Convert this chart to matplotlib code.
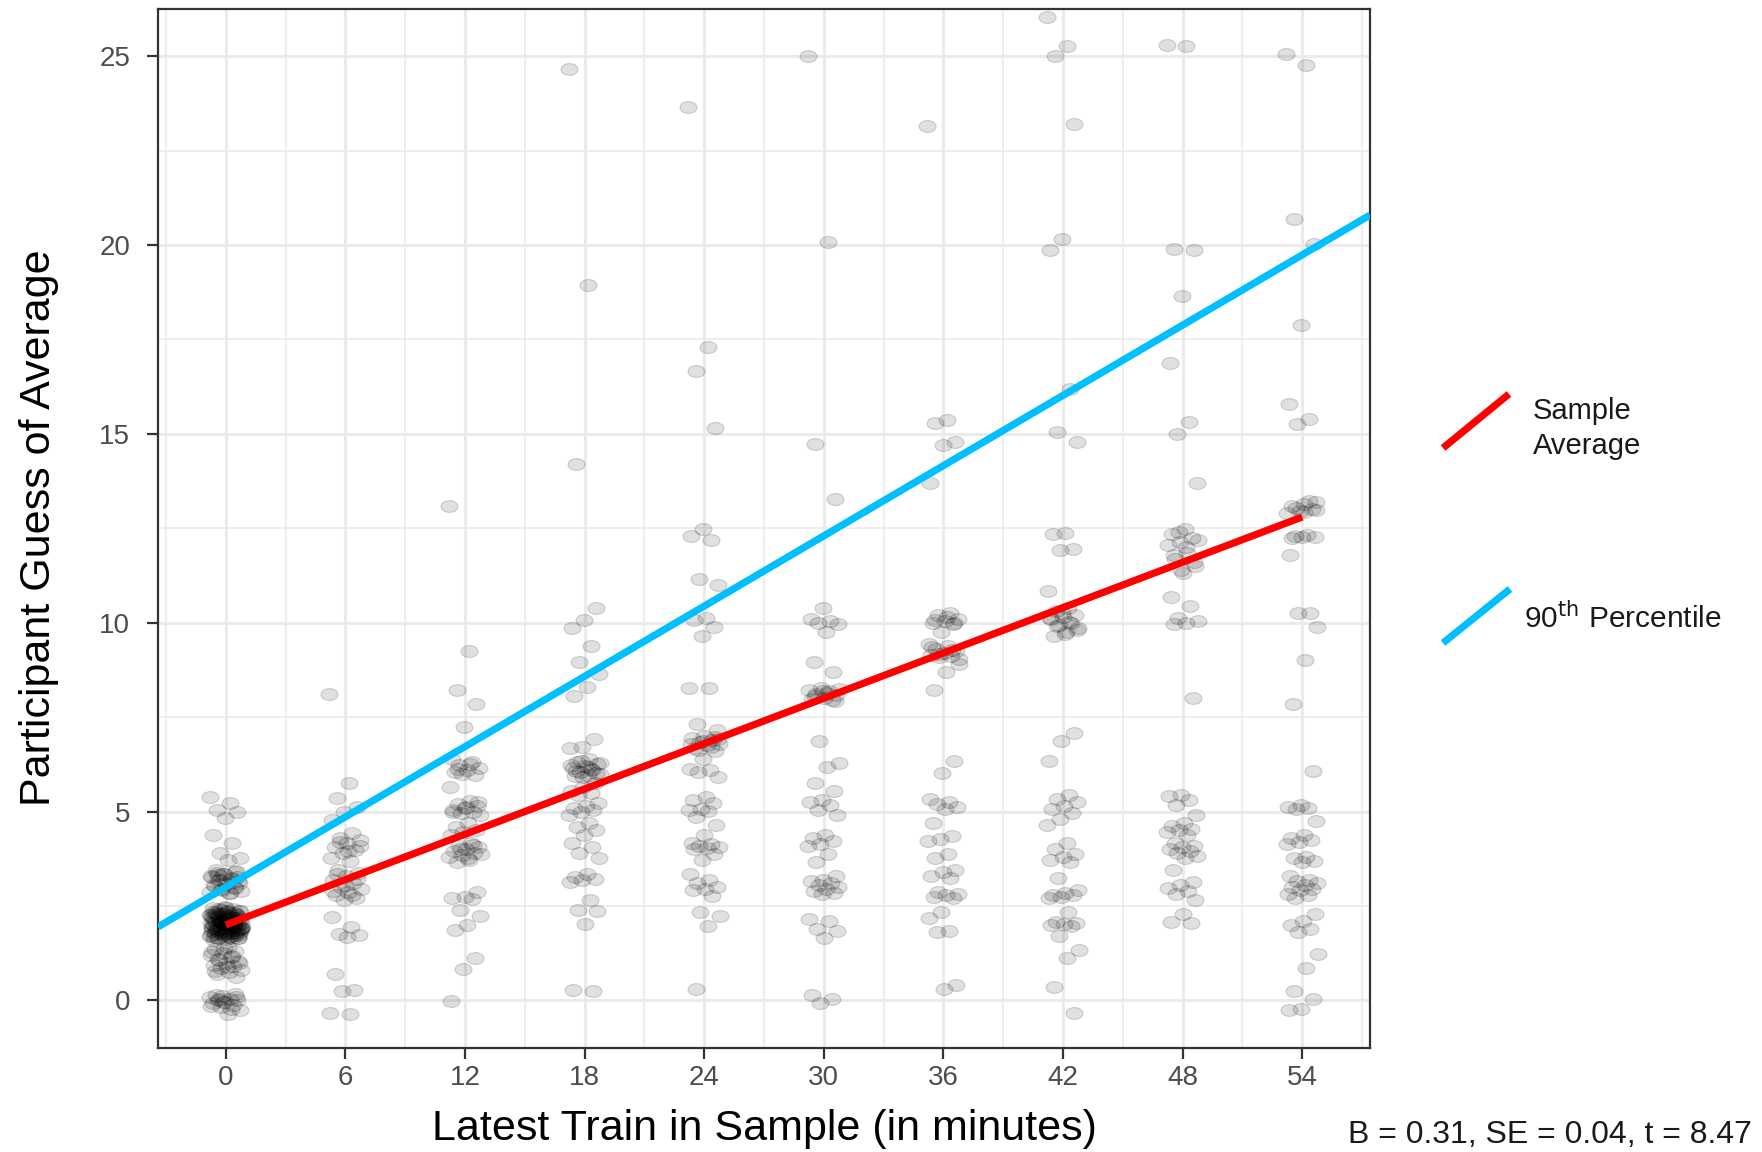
import numpy as np
import matplotlib
matplotlib.use("Agg")
import matplotlib.pyplot as plt
from matplotlib.path import Path
from matplotlib.lines import Line2D

plt.rcParams['font.family'] = ['Liberation Sans', 'DejaVu Sans']

# ---------------- data ----------------
x_groups = [0, 6, 12, 18, 24, 30, 36, 42, 48, 54]
x_ticks = [0, 6, 12, 18, 24, 30, 36, 42, 48, 54]
y_ticks = [0, 5, 10, 15, 20, 25]

y_0 = [5.39, 5.22, 5.04, 5.0, 4.82, 4.38, 4.16, 3.89, 3.76, 3.72,
       3.45, 3.4, 3.35, 3.3, 3.25, 3.2, 3.15, 3.1, 3.05, 3.0, 2.95, 2.9, 2.85, 3.38,
       3.42, 3.36, 3.28, 3.22, 3.18, 3.12, 3.08, 3.02, 2.98, 2.92, 2.88, 2.84, 3.32, 3.26,
       2.48, 2.45, 2.42, 2.4, 2.37, 2.35, 2.32, 2.3, 2.28, 2.25, 2.22, 2.2, 2.18, 2.15,
       2.12, 2.1, 2.08, 2.05, 2.02, 2.0, 1.98, 1.95, 1.92, 1.9, 1.88, 1.85, 1.82, 1.8,
       1.78, 1.75, 1.72, 1.7, 1.68, 1.65, 1.62, 1.6, 2.0, 2.1, 1.9, 2.2, 2.3, 1.8, 2.0,
       1.95, 2.05,
       2.41, 2.38, 2.36, 2.33, 2.31, 2.29, 2.27, 2.26, 2.24, 2.23, 2.21, 2.19, 2.17,
       2.16, 2.14, 2.13, 2.11, 2.09, 2.07, 2.06, 2.04, 2.03, 2.01, 1.99, 1.97, 1.96,
       1.94, 1.93, 1.91, 1.89, 1.87, 1.86, 1.84, 1.83, 1.81, 1.79, 1.77, 1.76, 1.74,
       1.72, 1.7, 1.68, 1.66, 1.64, 2.44, 2.02, 1.98, 2.08, 1.92, 2.12, 1.88, 2.18,
       1.82, 2.22, 1.78, 2.28, 1.73, 2.34, 1.69, 2.0, 2.05, 1.95, 2.15, 1.85, 2.25,
       1.75, 2.35, 1.65, 2.1, 1.9,
       1.41, 1.35, 1.3, 1.25, 1.2, 1.15, 1.1, 1.05, 1.0, 0.95, 0.9, 0.85, 0.8, 0.75,
       0.71, 0.62, 1.38, 1.28, 1.18, 1.08, 0.98, 0.88, 0.78,
       0.18, 0.12, 0.08, 0.05, 0.02, 0.0, -0.03, -0.08, -0.12, -0.18, -0.25, -0.35,
       0.15, 0.1, -0.05, -0.15, -0.22, 0.04]
y_6 = [8.12, 5.76, 5.35, 5.13, 5.0, 4.77, 4.42, 4.3, 4.24, 4.16, 4.05, 3.98, 3.9,
       3.76, 3.7, 3.45, 3.38, 3.3, 3.18, 3.1, 3.0, 2.95, 2.88, 2.8, 2.72, 2.65, 2.21,
       1.95, 1.75, 1.72, 1.68, 0.71, 0.28, 0.25, -0.33, -0.37,
       3.35, 3.22, 3.05, 2.9, 2.78, 4.2, 4.1, 3.95]
y_12 = [13.09, 9.24, 8.22, 7.84, 7.25, 6.39, 6.3, 6.22, 6.15, 6.1, 6.05, 5.97, 6.0,
        5.65, 5.28, 5.2, 5.15, 5.1, 5.05, 5.0, 4.95, 4.92, 4.7, 4.6, 4.5, 4.45, 4.39,
        4.18, 4.1, 4.05, 4.0, 3.95, 3.9, 3.85, 3.8, 3.72, 3.66, 2.87, 2.75, 2.71, 2.68,
        2.39, 2.24, 2.0, 1.87, 1.13, 0.82, -0.02,
        6.25, 6.12, 5.25, 5.12, 4.98, 4.12, 4.02, 3.88, 3.78]
y_18 = [24.65, 18.93, 14.21, 10.38, 10.06, 9.87, 9.38, 8.96, 8.64, 8.3, 8.07, 6.91,
        6.72, 6.68, 6.39, 6.32, 6.25, 6.2, 6.15, 6.1, 6.05, 6.0, 5.97, 5.95, 5.76,
        5.65, 5.55, 5.5, 5.44, 5.23, 5.15, 5.1, 5.05, 4.98, 4.92, 4.7, 4.6, 4.5, 4.39,
        4.18, 4.05, 3.9, 3.76, 3.34, 3.28, 3.22, 3.18, 3.13, 2.66, 2.39, 2.36, 2.03,
        0.27, 0.25,
        6.35, 6.28, 6.18, 6.08, 6.02, 5.92, 6.22, 6.12]
y_24 = [23.66, 17.3, 16.67, 15.16, 12.48, 12.29, 12.2, 11.17, 11.0, 10.12, 10.08,
        9.9, 9.66, 8.28, 8.26, 7.33, 7.17, 7.0, 6.95, 6.9, 6.85, 6.8, 6.75, 6.68, 6.6,
        6.39, 6.12, 6.1, 6.05, 5.91, 5.39, 5.3, 5.23, 5.07, 5.05, 5.02, 4.86, 4.65,
        4.39, 4.18, 4.15, 4.1, 4.05, 4.03, 4.02, 3.87, 3.71, 3.34, 3.18, 3.1, 3.0,
        2.95, 2.92, 2.76, 2.34, 2.24, 1.97, 0.29,
        6.98, 6.88, 6.78, 6.7, 6.62, 6.92]
y_30 = [25.0, 20.09, 14.74, 13.27, 10.38, 10.1, 10.05, 10.0, 9.96, 9.75, 8.96, 8.7,
        8.28, 8.22, 8.18, 8.12, 8.08, 8.02, 7.98, 7.96, 6.86, 6.28, 6.18, 5.76, 5.55,
        5.3, 5.26, 5.18, 5.05, 4.92, 4.39, 4.3, 4.22, 4.15, 4.08, 3.87, 3.66, 3.29,
        3.2, 3.15, 3.1, 3.05, 3.0, 2.95, 2.9, 2.85, 2.82, 2.15, 2.11, 1.9, 1.85, 1.66,
        0.14, 0.05, -0.07,
        8.25, 8.15, 8.05, 7.92, 8.2]
y_36 = [23.15, 15.37, 15.3, 14.79, 14.7, 13.69, 10.27, 10.2, 10.1, 10.05, 10.0, 9.96,
        9.75, 9.43, 9.38, 9.3, 9.25, 9.2, 9.15, 9.12, 9.1, 8.91, 8.7, 8.22, 6.33, 6.02,
        5.34, 5.25, 5.2, 5.12, 5.07, 4.71, 4.34, 4.28, 4.23, 3.87, 3.76, 3.45, 3.4,
        3.3, 3.24, 2.87, 2.82, 2.78, 2.75, 2.71, 2.34, 2.18, 1.84, 1.8, 0.4, 0.29,
        9.35, 9.28, 9.18, 9.05, 10.15, 10.08, 9.98]
y_42 = [26.03, 25.26, 25.0, 23.21, 20.15, 19.88, 16.19, 15.05, 14.79, 12.37, 12.35,
        11.95, 11.93, 10.85, 10.38, 10.3, 10.2, 10.15, 10.1, 10.0, 9.95, 9.85, 9.75,
        9.64, 7.07, 6.86, 6.33, 5.44, 5.34, 5.25, 5.15, 5.07, 4.97, 4.8, 4.65, 4.18,
        4.02, 3.87, 3.8, 3.72, 3.66, 3.24, 2.92, 2.85, 2.8, 2.78, 2.75, 2.71, 2.34,
        2.08, 2.05, 2.02, 2.0, 1.97, 1.71, 1.34, 1.13, 0.35, -0.34,
        10.25, 10.12, 10.02, 9.92, 9.8, 9.7]
y_48 = [25.29, 25.27, 19.9, 19.88, 18.66, 16.88, 15.32, 15.0, 13.69, 12.48, 12.35,
        12.25, 12.15, 12.06, 11.85, 11.7, 11.5, 11.32, 10.69, 10.43, 10.12, 10.05,
        10.0, 9.96, 8.01, 5.44, 5.4, 5.3, 5.18, 4.92, 4.7, 4.62, 4.55, 4.5, 4.45, 4.39,
        4.18, 4.1, 4.05, 4.0, 3.95, 3.9, 3.82, 3.76, 3.45, 3.13, 3.05, 2.98, 2.9, 2.82,
        2.66, 2.29, 2.08, 2.06,
        12.4, 12.2, 12.0, 11.8, 11.6, 11.4]
y_54 = [25.05, 24.78, 20.69, 20.03, 17.89, 15.78, 15.4, 15.26, 13.2, 13.15, 13.1,
        13.0, 12.95, 12.9, 12.32, 12.3, 12.28, 12.27, 11.8, 10.27, 10.25, 9.9, 9.01,
        7.86, 6.07, 5.18, 5.12, 5.1, 5.07, 4.76, 4.39, 4.3, 4.25, 4.2, 4.13, 3.81,
        3.76, 3.7, 3.66, 3.29, 3.2, 3.15, 3.1, 3.05, 3.0, 2.95, 2.92, 2.82, 2.78, 2.71,
        2.29, 2.1, 2.0, 1.9, 1.82, 1.24, 0.87, 0.24, 0.03, -0.23, -0.25,
        13.22, 13.05, 12.98, 12.92, 12.25]
y_groups = [y_0, y_6, y_12, y_18, y_24, y_30, y_36, y_42, y_48, y_54]

# regression lines: intercept, slope
avg_intercept, avg_slope = 2.0, 0.2
p90_intercept, p90_slope = 3.0, 0.31

legend_labels = ["Sample\nAverage", r"90$^{\mathrm{th}}$ Percentile"]
stats_text = "B = 0.31, SE = 0.04, t = 8.47"
x_label = "Latest Train in Sample (in minutes)"
y_label = "Participant Guess of Average"

# ---------------- figure ----------------
W, H = 1762, 1152
fig = plt.figure(figsize=(W / 100, H / 100), dpi=100)
ax = fig.add_axes([158 / W, 1 - 1048 / H, (1370 - 158) / W, (1048 - 9) / H])

xlim = (-3.4, 57.4)
ylim = (-1.26, 26.25)

# grid
grid_col = '#ebebeb'
ax.set_xticks(x_ticks)
ax.set_yticks(y_ticks)
ax.set_xticks(np.arange(-3, 58, 6), minor=True)
ax.set_yticks(np.arange(-2.5, 27, 5), minor=True)
ax.grid(True, which='major', color=grid_col, lw=2.2, zorder=0)
ax.grid(True, which='minor', color=grid_col, lw=1.2, zorder=0)
ax.set_axisbelow(True)

# ellipse marker
circ = Path.unit_circle()
ell = Path(circ.vertices * np.array([1.0, 0.7]), circ.codes)

golden = 0.6180339887
for gx, ys in zip(x_groups, y_groups):
    n = len(ys)
    offs = np.array([((i * golden) % 1.0 - 0.5) * 1.6 for i in range(n)])
    ax.scatter(gx + offs, ys, s=150, marker=ell,
               facecolor=(0, 0, 0, 0.12), edgecolor=(0, 0, 0, 0.16),
               linewidths=0.8, zorder=2)

# lines
xs_avg = np.array([x_groups[0], x_groups[-1]])
ax.plot(xs_avg, avg_intercept + avg_slope * xs_avg, color='#ff0000', lw=5.2,
        solid_capstyle='butt', zorder=4)
xs_p90 = np.array(xlim)
ax.plot(xs_p90, p90_intercept + p90_slope * xs_p90, color='#00bfff', lw=5.2,
        solid_capstyle='butt', zorder=3)

ax.set_xlim(*xlim)
ax.set_ylim(*ylim)

# spines/ticks
for sp in ax.spines.values():
    sp.set_color('#333333')
    sp.set_linewidth(1.6)
ax.tick_params(which='major', direction='out', length=8, width=1.6,
               color='#333333', labelcolor='#4d4d4d', labelsize=20)
ax.tick_params(axis='y', pad=12)
ax.tick_params(axis='x', pad=4)
ax.tick_params(which='minor', length=0)


def fx(px):
    return px / W


def fy(py):
    return 1 - py / H


# axis titles
fig.text(fx(764), fy(1140), x_label, fontsize=31, color='black',
         ha='center', va='baseline')
fig.text(fx(50), fy(528), y_label, fontsize=31, color='black', rotation=90,
         rotation_mode='anchor', ha='center', va='baseline')

# legend (manual, outside plot)
fig.add_artist(Line2D([fx(1443), fx(1509)], [fy(448), fy(394)], color='#ff0000',
                      lw=5.2, solid_capstyle='butt', transform=fig.transFigure))
fig.add_artist(Line2D([fx(1443), fx(1510)], [fy(643), fy(589)], color='#00bfff',
                      lw=5.2, solid_capstyle='butt', transform=fig.transFigure))
fig.text(fx(1533), fy(454), legend_labels[0], fontsize=21, color='#1a1a1a',
         ha='left', va='baseline', linespacing=1.3)
fig.text(fx(1524), fy(628), legend_labels[1], fontsize=21.5, color='#1a1a1a',
         ha='left', va='baseline')

fig.text(fx(1348), fy(1143), stats_text, fontsize=23, color='#1a1a1a',
         ha='left', va='baseline')

fig.savefig("out.png", dpi=100)
